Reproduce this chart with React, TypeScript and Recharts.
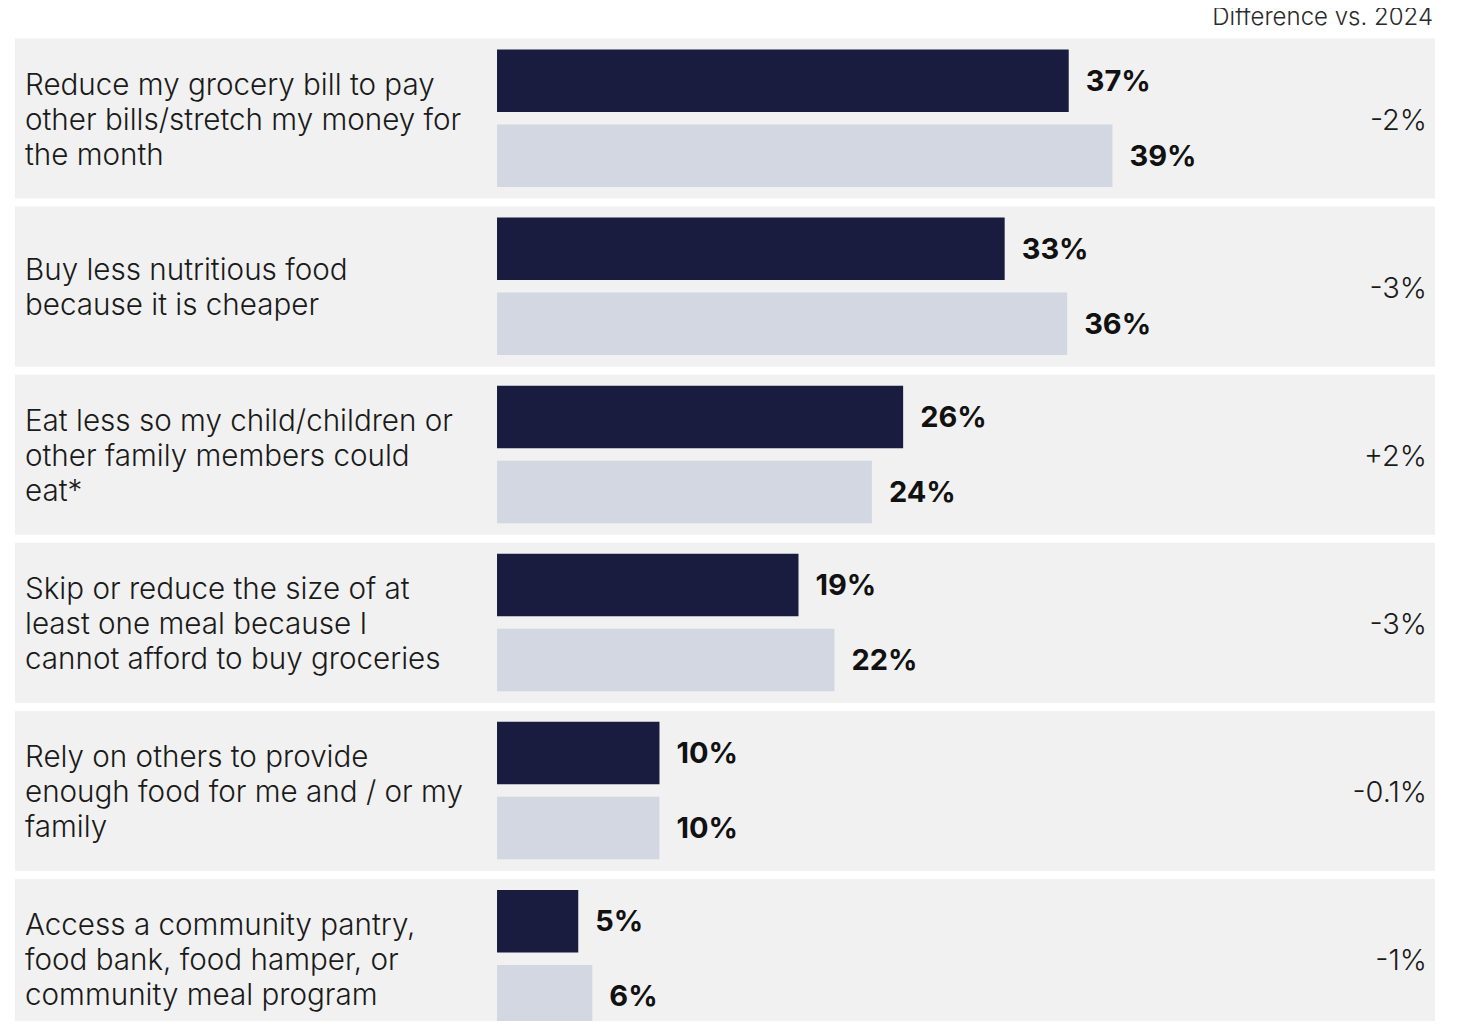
import React from "react";
import { BarChart, Bar, XAxis, YAxis, ReferenceArea, LabelList } from "recharts";

const categories = [
  "Reduce my grocery bill to pay\nother bills/stretch my money for\nthe month",
  "Buy less nutritious food\nbecause it is cheaper",
  "Eat less so my child/children or\nother family members could\neat*",
  "Skip or reduce the size of at\nleast one meal because I\ncannot afford to buy groceries",
  "Rely on others to provide\nenough food for me and / or my\nfamily",
  "Access a community pantry,\nfood bank, food hamper, or\ncommunity meal program",
];
const values2025 = [36.6, 32.5, 26.0, 19.3, 10.4, 5.2];
const values2024 = [39.4, 36.5, 24.0, 21.6, 10.4, 6.1];
const labels2025 = ["37%", "33%", "26%", "19%", "10%", "5%"];
const labels2024 = ["39%", "36%", "24%", "22%", "10%", "6%"];
const differences = ["-2%", "-3%", "+2%", "-3%", "-0.1%", "-1%"];
const headerText = "Difference vs. 2024";

const data = categories.map((name, i) => ({
  name,
  v2025: values2025[i],
  v2024: values2024[i],
  l2025: labels2025[i],
  l2024: labels2024[i],
}));

const FONT = "Inter, 'Noto Sans', sans-serif";
const DARK = "#191B3F";
const LIGHT = "#D3D7E2";
const BAND = "#F1F1F1";

const CategoryTick = (props: any) => {
  const { x, y, payload } = props;
  const lines: string[] = String(payload.value).split("\n");
  const lh = 35;
  return (
    <text x={x} y={y} fontFamily={FONT} fontSize={29.6} fontWeight={300} fill="#1a1a1a" textAnchor="start">
      {lines.map((ln, i) => (
        <tspan key={i} x={x} y={y + 11 + (i - (lines.length - 1) / 2) * lh}>
          {ln}
        </tspan>
      ))}
    </text>
  );
};

const DiffTick = (props: any) => {
  const { x, y, payload } = props;
  const idx = categories.indexOf(payload.value);
  return (
    <text x={x} y={y + 11} fontFamily={FONT} fontSize={29} fontWeight={300} fill="#1a1a1a" textAnchor="end">
      {differences[idx]}
    </text>
  );
};

const BandShape = (props: any) => {
  const { x, y, width, height } = props;
  return <rect x={x} y={y + 4} width={width} height={Math.max(0, height - 8)} fill={BAND} />;
};

export default function App() {
  return (
    <div style={{ position: "relative", width: 1444, height: 1013 }}>
      <div
        style={{
          position: "absolute",
          right: 19,
          top: -3,
          fontFamily: FONT,
          fontSize: 24,
          fontWeight: 300,
          lineHeight: "24px",
          color: "#2a2a2a",
          whiteSpace: "nowrap",
          zIndex: 1,
        }}
      >
        {headerText}
      </div>
      <div style={{ width: 1444, height: 1013, overflow: "hidden" }}>
        <BarChart
          width={1444}
          height={1035}
          data={data}
          layout="vertical"
          margin={{ top: 26.5, right: 17, bottom: 0, left: 7 }}
          barSize={62.5}
          barGap={12.5}
        >
          {categories.map((c) => (
            <ReferenceArea key={c} y1={c} y2={c} yAxisId="left" shape={BandShape} fill={BAND} fillOpacity={1} stroke="none" />
          ))}
          <XAxis type="number" hide domain={[-30.86, 60.05]} allowDataOverflow />
          <YAxis
            yAxisId="left"
            type="category"
            dataKey="name"
            mirror
            axisLine={false}
            tickLine={false}
            tickSize={0}
            tickMargin={10}
            interval={0}
            tick={<CategoryTick />}
          />
          <YAxis
            yAxisId="right"
            orientation="right"
            type="category"
            dataKey="name"
            mirror
            axisLine={false}
            tickLine={false}
            tickSize={0}
            tickMargin={8}
            interval={0}
            tick={<DiffTick />}
          />
          <Bar dataKey="v2025" yAxisId="left" fill={DARK} isAnimationActive={false}>
            <LabelList
              dataKey="l2025"
              position="right"
              offset={17}
              style={{ fontFamily: FONT, fontSize: 29, fontWeight: 700, fill: "#111" }}
            />
          </Bar>
          <Bar dataKey="v2024" yAxisId="left" fill={LIGHT} isAnimationActive={false}>
            <LabelList
              dataKey="l2024"
              position="right"
              offset={17}
              style={{ fontFamily: FONT, fontSize: 29, fontWeight: 700, fill: "#111" }}
            />
          </Bar>
        </BarChart>
      </div>
    </div>
  );
}
